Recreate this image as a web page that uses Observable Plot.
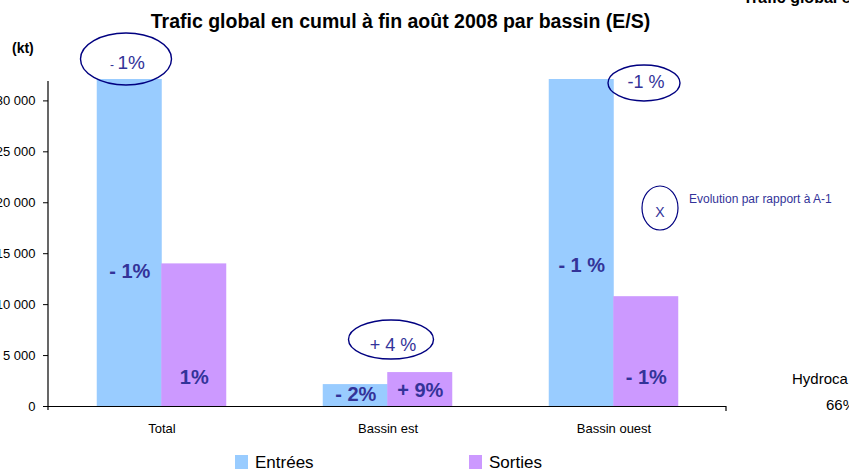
<!DOCTYPE html>
<html><head><meta charset="utf-8">
<script src="https://cdn.jsdelivr.net/npm/d3@7"></script>
<script src="https://cdn.jsdelivr.net/npm/@observablehq/plot@0.6"></script>
<style>body{margin:0;background:#fff;overflow:hidden}</style>
</head><body><div id="chart"></div>
<script>
// ---- data ----
const categories = ["Total", "Bassin est", "Bassin ouest"];
const series = ["Entrées", "Sorties"];
const entrees = [32100, 2150, 32100];
const sorties = [14000, 3330, 10780];
const labelsEntrees = ["- 1%", "- 2%", "- 1 %"];
const labelsSorties = ["1%", "+ 9%", "- 1%"];
const labelValueEntrees = [13250, 1180, 13840];
const labelValueSorties = [2850, 1570, 2850];
const evolution = ["- 1%", "+ 4 %", "-1 %"];
const yTicks = [0, 5000, 10000, 15000, 20000, 25000, 30000];
const title = "Trafic global en cumul à fin août 2008 par bassin (E/S)";
const unit = "(kt)";
const legendNote = "Evolution par rapport à A-1";

// ---- build rows ----
const rows = categories.flatMap((c, i) => [
  {cat: c, series: series[0], value: entrees[i], label: labelsEntrees[i], lv: labelValueEntrees[i]},
  {cat: c, series: series[1], value: sorties[i], label: labelsSorties[i], lv: labelValueSorties[i]}
]);
const E = rows.filter(d => d.series === series[0]);
const S = rows.filter(d => d.series === series[1]);

const W = 849, H = 471;
const mL = 48, mR = 123, mT = 79, mB = 65;
const step = (W - mL - mR) / 3;
const bw = 64.5;
const pIn = 1 - bw / step;
const half = bw / 2;
const txt = "#333399";
const font = "'Liberation Sans', Arial, sans-serif";
const loc = d3.formatLocale({decimal: ",", thousands: "\u00a0", grouping: [3], currency: ["", "€"]});
const fmt = loc.format(",");

const plot = Plot.plot({
  width: W, height: H,
  marginLeft: mL, marginRight: mR, marginTop: mT, marginBottom: mB,
  style: {fontFamily: font, fontSize: "13px", color: "#000", background: "#fff", overflow: "visible"},
  x: {domain: categories, paddingInner: pIn, paddingOuter: pIn / 2, label: null},
  y: {domain: [0, 32100], label: null},
  color: {domain: series, range: ["#99CCFF", "#CC99FF"]},
  marks: [
    Plot.barY(E, {x: "cat", y: "value", fill: "series", dx: -half}),
    Plot.barY(S, {x: "cat", y: "value", fill: "series", dx: half}),
    Plot.ruleY([0], {stroke: "#000", strokeWidth: 1.2}),
    Plot.axisY({ticks: yTicks, tickSize: 5, tickPadding: 8, tickFormat: fmt, label: null, fontSize: 13}),
    Plot.axisX({tickSize: 0, tickPadding: 17, label: null, fontSize: 13}),
    Plot.text(E, {x: "cat", y: "lv", text: "label", dx: -half, fontWeight: "bold", fontSize: 20, fill: txt}),
    Plot.text(S, {x: "cat", y: "lv", text: "label", dx: half, fontWeight: "bold", fontSize: 20, fill: txt})
  ]
});
document.getElementById("chart").appendChild(plot);

const svg = d3.select(plot);
const xs = plot.scale("x"), ys = plot.scale("y");
const cx = c => xs.apply(c) + xs.bandwidth / 2;
const y0 = ys.apply(0), yTop = ys.range[1];

function label(x, y, s, opts = {}) {
  return svg.append("text").attr("x", x).attr("y", y)
    .attr("text-anchor", opts.anchor || "start")
    .attr("font-family", font)
    .attr("font-size", opts.size || 12)
    .attr("font-weight", opts.weight || "normal")
    .attr("fill", opts.fill || "#000")
    .text(s);
}

// y axis line and right end tick
svg.append("line").attr("x1", mL).attr("x2", mL).attr("y1", yTop + 2).attr("y2", y0 + 4)
  .attr("stroke", "#000").attr("stroke-width", 1.2);
svg.append("line").attr("x1", W - mR).attr("x2", W - mR).attr("y1", y0).attr("y2", y0 + 5)
  .attr("stroke", "#000").attr("stroke-width", 1.2);

// evolution ellipses (layout relative to category centres)
const evoLayout = [
  {dx: -35.5, v: 34060, rx: 45.5, ry: 26, tdx: 1.5, tdy: 9.5, fs: 19},
  {dx: 3.5, v: 6528, rx: 42.5, ry: 19.5, tdx: 2, tdy: 12, fs: 18},
  {dx: 30.5, v: 31709, rx: 36, ry: 18, tdx: 2, tdy: 5, fs: 18}
];
categories.forEach((c, i) => {
  const L = evoLayout[i];
  const ex = cx(c) + L.dx, ey = ys.apply(L.v);
  svg.append("ellipse").attr("cx", ex).attr("cy", ey).attr("rx", L.rx).attr("ry", L.ry)
    .attr("fill", "none").attr("stroke", "#000080").attr("stroke-width", 1.4);
  const t = label(ex + L.tdx, ey + L.tdy, null, {anchor: "middle", size: L.fs, fill: txt});
  const lab = evolution[i];
  if (lab.startsWith("- ")) {
    t.append("tspan").attr("font-size", 12).text("- ");
    t.append("tspan").text(lab.slice(2));
  } else t.text(lab);
});

// key ellipse
svg.append("ellipse").attr("cx", 660).attr("cy", 208).attr("rx", 18).attr("ry", 22)
  .attr("fill", "none").attr("stroke", "#000080").attr("stroke-width", 1.2);
label(660, 217, "X", {anchor: "middle", size: 14, fill: txt});
label(689, 203, legendNote, {size: 12, fill: txt});

// title and unit
label(400.5, 28, title, {anchor: "middle", size: 19.5, weight: "bold"});
label(12, 53, unit, {size: 14, weight: "bold"});

// legend
const col = plot.scale("color");
const legendX = [235, 469];
series.forEach((s, i) => {
  svg.append("rect").attr("x", legendX[i]).attr("y", 455).attr("width", 13).attr("height", 14)
    .attr("fill", col.apply(s));
  label(legendX[i] + 20, 468, s, {size: 17});
});

// fragments of neighbouring charts cut by the frame
label(743, 3, "Trafic global e", {size: 16, weight: "bold"});
label(792, 384, "Hydroca", {size: 15});
label(826, 410, "66%", {size: 15});
</script>
</body></html>
